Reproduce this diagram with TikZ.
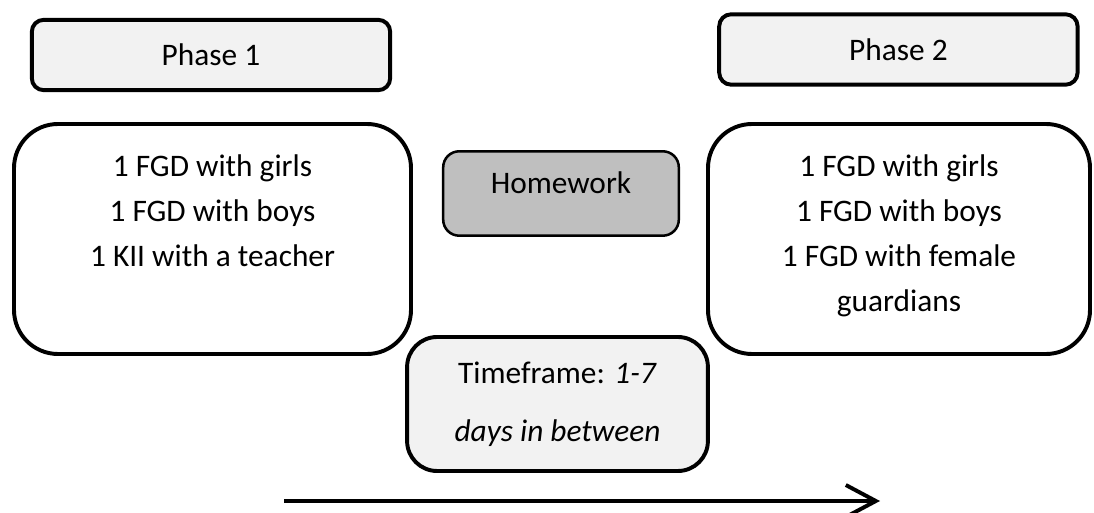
\documentclass[tikz,border=0pt]{standalone}
\usepackage{fontspec}
\setmainfont{Carlito}
\usepackage{tikz}
\usetikzlibrary{positioning, arrows.meta}
\definecolor{grisClaro}{HTML}{F2F2F2}
\definecolor{grisTarea}{HTML}{BFBFBF}

\begin{document}
\begin{tikzpicture}[
  font=\fontsize{22.3}{32}\selectfont,
  faseBox/.style={draw, line width=2.8pt, fill=grisClaro, rounded corners=0.3cm,
    minimum width=8.96cm, minimum height=1.76cm},
  grupoBox/.style={draw, line width=2.8pt, fill=white, rounded corners=1.1cm,
    minimum height=5.75cm},
  grupoTxt/.style={inner sep=0pt, align=center},
  tareaBox/.style={draw, line width=1.8pt, fill=grisTarea, rounded corners=0.4cm,
    minimum width=5.89cm, minimum height=2.11cm},
  tiempoBox/.style={draw, line width=2.8pt, fill=grisClaro, rounded corners=0.75cm,
    minimum width=7.52cm, minimum height=3.35cm, align=center},
  arr/.style={-{Straight Barb[length=0.75cm, width=0.8cm]}, line width=2.8pt}
]
  \useasboundingbox (0, 0) rectangle (27.35, -12.825);

  % --- Fases ---
  \node[faseBox] (fase1) at (5.275, -1.375)  {Phase 1};
  \node[faseBox] (fase2) at (22.46, -1.2375) {Phase 2};

  % --- Grupos de cada fase ---
  \node[grupoBox, minimum width=9.925cm] (grupo1) at (5.3125, -5.975) {};
  \node[grupoTxt, below=0.81cm of grupo1.north] (grupo1txt)
    {1 FGD with girls\\1 FGD with boys\\1 KII with a teacher};

  \node[grupoBox, minimum width=9.55cm] (grupo2) at (22.475, -5.975) {};
  \node[grupoTxt, below=0.81cm of grupo2.north] (grupo2txt)
    {1 FGD with girls\\1 FGD with boys\\1 FGD with female\\guardians};

  % --- Tarea entre fases ---
  \node[tareaBox] (tarea) at (14.025, -4.8375) {};
  \node[anchor=base, inner sep=0pt] (tareatxt) at (tarea.center) {Homework};

  % --- Tiempo entre fases ---
  \node[tiempoBox] (tiempo) at (13.9375, -10.1)
    {Timeframe: \textit{1-7}\\[9pt]\textit{days in between}};

  % --- Flecha del tiempo ---
  \coordinate (tIni) at (7.1, -12.525);
  \coordinate (tFin) at (22.0, -12.525);
  \draw[arr] (tIni) -- (tFin);

\end{tikzpicture}
\end{document}
